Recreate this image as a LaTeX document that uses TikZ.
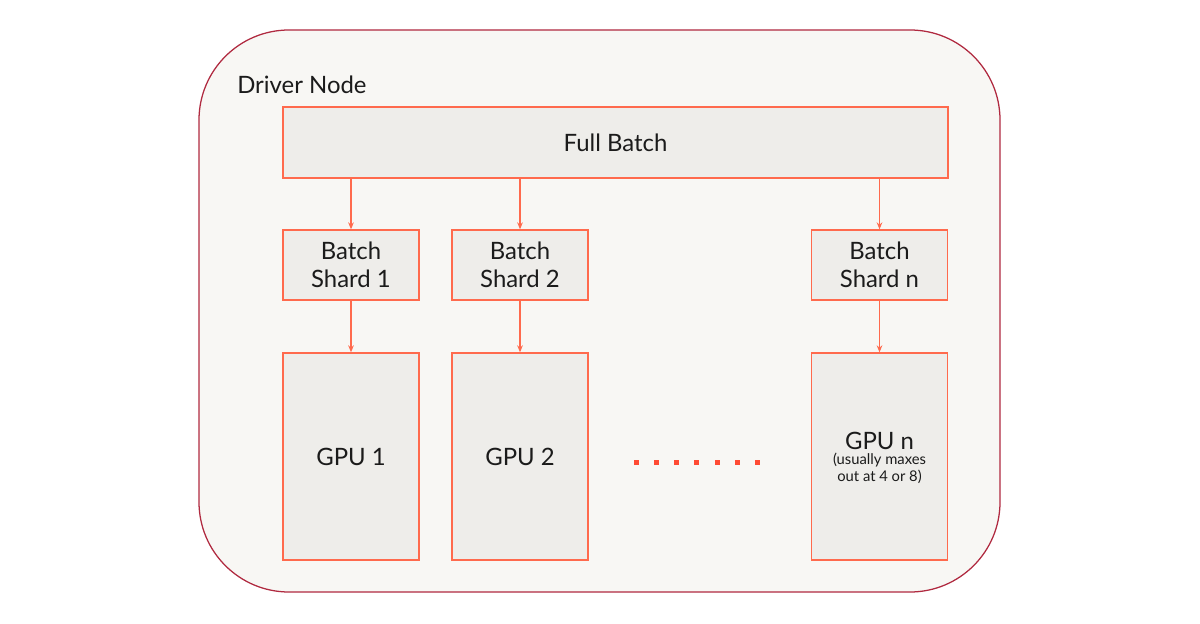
\documentclass[tikz,border=0pt]{standalone}
\usepackage{fontspec}
\setmainfont{Lato}
\usetikzlibrary{arrows.meta,positioning}
\definecolor{drvred}{HTML}{B02A40}
\definecolor{drvfill}{HTML}{F8F7F4}
\definecolor{boxfill}{HTML}{EEEDEA}
\definecolor{coral}{HTML}{FF6A4D}
\definecolor{dotred}{HTML}{FF4B33}
\definecolor{ink}{HTML}{1B1B1B}
\begin{document}
\begin{tikzpicture}[x=0.025cm,y=-0.025cm,
  box/.style={draw=coral,fill=boxfill,line width=0.9pt,minimum width=3.4cm,minimum height=1.75cm,
    font=\fontsize{17}{20}\selectfont,text=ink,align=center,inner sep=0pt},
  gpubox/.style={box,minimum height=5.175cm},
  arr/.style={-{Stealth[length=5pt,width=4pt]},coral,line width=0.8pt}]
  \useasboundingbox (0,0) rectangle (1200,623);
  % Driver node
  \draw[drvred,fill=drvfill,line width=0.9pt,rounded corners=2.25cm] (199,30) rectangle (1000,592);
  \node[anchor=base west,font=\fontsize{17}{20}\selectfont,text=ink,inner sep=0pt] (drv) at (237,94) {Driver Node};
  % Full batch
  \node[box,minimum width=16.625cm,minimum height=1.775cm] (full) at (615.5,142.5) {Full Batch};
  % Shards
  \node[box] (shard1) at (351,265) {Batch\\Shard 1};
  \node[box] (shard2) at (520,265) {Batch\\Shard 2};
  \node[box] (shardn) at (879.5,265) {Batch\\Shard n};
  % GPUs
  \node[gpubox] (gpu1) at (351,456.5) {GPU 1};
  \node[gpubox] (gpu2) at (520,456.5) {GPU 2};
  \node[gpubox] (gpun) at (879.5,456.5) {};
  \node[font=\fontsize{17}{20}\selectfont,text=ink] (gpunlbl) at (879.5,441) {GPU n};
  \node[font=\fontsize{10.5}{12}\selectfont,text=ink,align=center,below=-4.5pt of gpunlbl] (gpunnote) {(usually maxes\\out at 4 or 8)};
  % Arrows
  \foreach \s/\g in {shard1/gpu1,shard2/gpu2,shardn/gpun}{
    \draw[arr] (\s |- full.south) -- (\s.north);
    \draw[arr] (\s.south) -- (\g.north);
  }
  % Dots
  \foreach \i in {0,...,6}
    \fill[dotred] ({636+\i*20.3-2.5},459.5) rectangle ++(5,5);
\end{tikzpicture}
\end{document}
